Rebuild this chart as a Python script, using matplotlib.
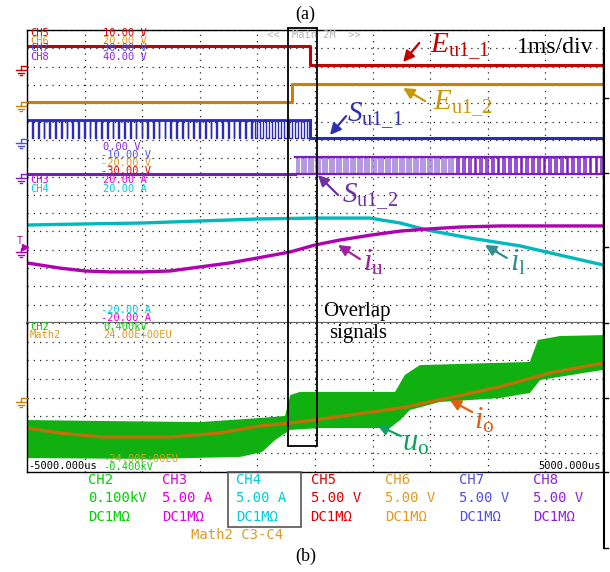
"""
Oscilloscope capture: switching of the upper-arm cell (Eu1_1 -> Eu1_2)
with the two-panel DL-style screen and channel table underneath.
"""

import matplotlib

matplotlib.use("Agg")
import matplotlib.pyplot as plt
import numpy as np
from matplotlib.lines import Line2D
from matplotlib.patches import Rectangle

plt.rcParams["mathtext.fontset"] = "custom"
plt.rcParams["mathtext.rm"] = "Liberation Serif"
plt.rcParams["mathtext.it"] = "Liberation Serif:italic"

# ---------------- data (time in ms, amplitude in screen divisions) ----------------
T_MIN, T_MAX = -5.0, 5.0

# CH5 / CH6: dc-link voltages of the two cells (step at changeover)
ch5_levels = [15.13, 14.09]
ch5_step_t = -0.09
ch6_levels = [12.07, 13.05]
ch6_step_t = -0.40

# CH7: gate signal S_u1_1 (pwm until changeover, then off)
ch7_high, ch7_low = 11.09, 10.10
ch7_seg_t = [-5.0, -1.1, -0.09]
ch7_period = 0.1
ch7_low_frac = [0.12, 0.5]

# CH8: gate signal S_u1_2 (off until changeover, then pwm)
ch8_high, ch8_low = 9.07, 8.14
ch8_seg_t = [-0.35, 2.40, 5.0]
ch8_period = [0.08, 0.1]
ch8_low_frac = [0.5, 0.3]

# CH4: i_l
il_t = [-5, -3.99, -3.0, -2.0, -1.0, 0.0, 0.95, 1.48, 1.94, 2.69, 3.56, 4.25, 5.0]
il_v = [5.35, 5.41, 5.46, 5.57, 5.68, 5.73, 5.73, 5.46, 5.08, 4.64, 4.21, 3.71, 3.17]

# CH3: i_u
iu_t = [-5, -4.43, -3.99, -3.56, -3.0, -2.52, -2.0, -1.48, -1.0, -0.43, 0.0,
        0.43, 0.99, 1.48, 1.94, 2.52, 3.21, 5.0]
iu_v = [3.28, 3.0, 2.84, 2.79, 2.79, 2.84, 3.06, 3.28, 3.55, 3.88, 4.26,
        4.53, 4.81, 5.02, 5.13, 5.24, 5.30, 5.30]

# Math2: i_o
io_t = [-5, -4.43, -3.70, -2.52, -1.65, -0.97, -0.42, 0.61, 1.49, 2.31, 3.19, 4.08, 5.0]
io_v = [2.36, 2.09, 1.88, 1.88, 2.09, 2.47, 2.63, 3.06, 3.44, 3.97, 4.56, 5.32, 5.85]

# CH2: u_o pwm envelope
uo_top_t = [-5, -3.73, -2.0, -0.95, -0.52, -0.43, -0.26, 1.39, 1.56, 1.82, 3.73, 3.87, 4.25, 5.0]
uo_top_v = [2.79, 2.74, 2.68, 2.90, 3.01, 4.13, 4.30, 4.30, 5.21, 5.74, 5.91, 7.09, 7.30, 7.35]
uo_bot_t = [-5, -2.86, -1.30, -0.92, -0.69, -0.43, 0.09, 1.30, 1.48, 1.65, 2.17, 3.21, 3.73, 3.91, 5.0]
uo_bot_v = [0.75, 0.70, 0.81, 1.07, 1.72, 2.26, 2.36, 2.36, 2.79, 3.33, 3.76, 3.97, 4.24, 4.94, 5.48]

# channel table
table_ch = ["CH2", "CH3", "CH4", "CH5", "CH6", "CH7", "CH8"]
table_scale = ["0.100kV", "5.00 A", "5.00 A", "5.00 V", "5.00 V", "5.00 V", "5.00 V"]
table_coupling = ["DC1M\u03a9"] * 7

# ---------------- colours ----------------
C_RED = "#c40000"
C_ORG = "#c8800a"
C_BLUE = "#2c2cb4"
C_PURP = "#7a1cc4"
C_PURP_LT = "#a17ad8"
C_CYAN = "#00b9bc"
C_MAG = "#b000b0"
C_GREEN = "#10b010"
C_IO = "#c0700a"

TXT = {
    "CH2": "#00d000", "CH3": "#e000e0", "CH4": "#00ccd8", "CH5": "#e00000",
    "CH6": "#e09a20", "CH7": "#5050e0", "CH8": "#9020e0", "Math2": "#e09a20",
}

W, H = 610, 572


def fx(x):
    return x / W


def fy(y):
    return 1 - y / H


def pwm(t0, t1, period, low_frac, hi, lo):
    n = max(1, int(round((t1 - t0) / period)))
    p = (t1 - t0) / n
    ts, ys = [], []
    for k in range(n):
        s = t0 + k * p
        fall = s + p * (1 - low_frac)
        ts += [s, fall, fall, s + p]
        ys += [hi, hi, lo, lo]
    ts.append(t1)
    ys.append(hi)
    return np.array(ts), np.array(ys)


fig = plt.figure(figsize=(W / 100, H / 100), dpi=100)

ax_up = fig.add_axes([fx(27), fy(323), fx(576), 293 / H])
ax_lo = fig.add_axes([fx(27), fy(472), fx(576), 149 / H])

for ax, ndiv in ((ax_up, 16), (ax_lo, 8)):
    ax.set_xlim(T_MIN, T_MAX)
    ax.set_ylim(0, ndiv)
    ax.set_xticks(np.arange(-5, 6, 1))
    ax.set_yticks(np.arange(0, ndiv + 1, 1))
    ax.tick_params(length=0, labelbottom=False, labelleft=False)
    ax.grid(True, ls=(0, (1, 4)), color="#222222", lw=0.9)
    for sp in ax.spines.values():
        sp.set_color("black")
        sp.set_linewidth(1.0)
    ax.set_axisbelow(True)

ax_up.spines["bottom"].set_color("#666666")
ax_up.spines["bottom"].set_linewidth(1.6)
ax_lo.spines["top"].set_visible(False)

# --- upper panel traces ---
ax_up.step([T_MIN, ch5_step_t, T_MAX], [ch5_levels[0], ch5_levels[1], ch5_levels[1]],
           where="post", color=C_RED, lw=2.2)
ax_up.step([T_MIN, ch6_step_t, T_MAX], [ch6_levels[0], ch6_levels[1], ch6_levels[1]],
           where="post", color=C_ORG, lw=2.2)

for i, frac in enumerate(ch7_low_frac):
    t, v = pwm(ch7_seg_t[i], ch7_seg_t[i + 1], ch7_period, frac, ch7_high, ch7_low)
    ax_up.plot(t, v, color=C_BLUE, lw=1.0)
ax_up.plot([ch7_seg_t[0], ch7_seg_t[-1]], [ch7_high, ch7_high], color=C_BLUE, lw=2.0)
ax_up.plot([ch7_seg_t[-1], ch7_seg_t[-1], T_MAX], [ch7_high, ch7_low, ch7_low],
           color=C_BLUE, lw=2.2)

ax_up.plot([T_MIN, ch8_seg_t[0]], [ch8_low, ch8_low], color=C_PURP, lw=2.2)
for i, frac in enumerate(ch8_low_frac):
    t, v = pwm(ch8_seg_t[i], ch8_seg_t[i + 1], ch8_period[i], frac, ch8_high, ch8_low)
    ax_up.plot(t, v, color=C_PURP_LT if i == 0 else C_PURP, lw=1.1)
ax_up.plot([ch8_seg_t[0], T_MAX], [ch8_high, ch8_high], color=C_PURP, lw=1.6)
ax_up.plot([ch8_seg_t[0], T_MAX], [ch8_low, ch8_low], color=C_PURP, lw=1.6)

ax_up.plot(il_t, il_v, color=C_CYAN, lw=2.4)
ax_up.plot(iu_t, iu_v, color=C_MAG, lw=2.4)

# --- lower panel traces ---
ax_lo.fill(np.r_[uo_top_t, uo_bot_t[::-1]], np.r_[uo_top_v, uo_bot_v[::-1]],
           color=C_GREEN, lw=0)
ax_lo.plot(io_t, io_v, color=C_IO, lw=2.4)

# --- annotations ---
ARW = dict(arrowstyle="-|>", lw=1.6, mutation_scale=16, shrinkA=0, shrinkB=0)


def label(ax, text, tip, tail, txy, color, size=21):
    ax.annotate("", xy=tip, xytext=tail, arrowprops=dict(ARW, color=color))
    ax.text(txy[0], txy[1], text, color=color, fontsize=size, va="baseline",
            ha="left", family="Liberation Serif")


label(ax_up, r"$E_{\mathrm{u1\_1}}$", (1.53, 14.25), (1.81, 15.29), (2.0, 14.74), "#c00000")
label(ax_up, r"$E_{\mathrm{u1\_2}}$", (1.53, 12.83), (1.91, 12.12), (2.05, 11.63), "#c89600")
label(ax_up, r"$S_{\mathrm{u1\_1}}$", (0.26, 10.27), (0.54, 11.30), (0.55, 10.98), "#3030b0")
label(ax_up, r"$S_{\mathrm{u1\_2}}$", (0.05, 8.08), (0.40, 6.99), (0.47, 6.55), "#7030a0")
label(ax_up, r"$i_{\mathrm{u}}$", (0.40, 4.26), (0.78, 3.49), (0.83, 2.89), "#a020a0", 22)
label(ax_up, r"$i_{\mathrm{l}}$", (2.95, 4.26), (3.33, 3.55), (3.39, 2.89), "#309090", 22)
label(ax_lo, r"$i_{\mathrm{o}}$", (2.34, 3.87), (2.73, 3.22), (2.76, 2.36), "#e06010", 22)
label(ax_lo, r"$u_{\mathrm{o}}$", (1.08, 2.52), (1.49, 1.93), (1.51, 1.18), "#10a060", 22)

serif = dict(family="Liberation Serif", color="black")
fig.text(fx(517), fy(53), "1ms/div", fontsize=17, va="baseline", **serif)
fig.text(fx(323), fy(316), "Overlap", fontsize=15, va="baseline", **serif)
fig.text(fx(329), fy(338), "signals", fontsize=15, va="baseline", **serif)
fig.text(fx(305), fy(14), "(a)", fontsize=13, ha="center", va="center", **serif)
fig.text(fx(306), fy(556), "(b)", fontsize=13, ha="center", va="center", **serif)

# overlap window spanning both panels
fig.add_artist(Rectangle((fx(288), fy(446)), 29 / W, 418 / H, transform=fig.transFigure,
                         fill=False, ec="black", lw=1.3))

# --- on-screen scope readouts ---
mono = dict(family="DejaVu Sans Mono", fontsize=7.5, va="center")
readouts = [
    ("CH5", "CH5", 30, 33), ("CH6", "CH6", 30, 41), ("CH7", "CH7", 30, 48), ("CH8", "CH8", 30, 57),
    ("10.00 V", "CH5", 103, 33), ("20.00 V", "CH6", 103, 41),
    ("30.00 V", "CH7", 103, 48), ("40.00 V", "CH8", 103, 57),
    ("0.00 V", "CH8", 103, 147), ("-10.00 V", "CH7", 101, 155),
    ("-20.00 V", "CH6", 101, 163), ("-30.00 V", "CH5", 101, 171),
    ("CH3", "CH3", 30, 180), ("CH4", "CH4", 30, 189),
    ("20.00 A", "CH3", 103, 180), ("20.00 A", "CH4", 103, 189),
    ("-20.00 A", "CH4", 101, 310), ("-20.00 A", "CH3", 101, 318),
    ("CH2", "CH2", 30, 327), ("Math2", "Math2", 30, 335),
    ("0.400kV", "CH2", 103, 327), ("24.00E+00EU", "Math2", 103, 335),
    ("-24.00E+00EU", "Math2", 103, 459), ("-0.400kV", "CH2", 103, 467),
]
for txt, ch, x, y in readouts:
    fig.text(fx(x), fy(y), txt, color=TXT[ch], **mono)
fig.text(fx(28), fy(466), "-5000.000us", color="black", **mono)
fig.text(fx(601), fy(466), "5000.000us", color="black", ha="right", **mono)
fig.text(fx(267), fy(35), "<<  Main 2M  >>", color="#b4b4b4", **mono)


# ground reference markers on the left edge
def ground(y, color):
    xs = [(27, 21, 21), (16, 26), (18, 24), (20, 22)]
    ys = [(y, y, y + 4), (y + 4, y + 4), (y + 6.5, y + 6.5), (y + 9, y + 9)]
    for a, b in zip(xs, ys):
        fig.add_artist(Line2D([fx(v) for v in a], [fy(v) for v in b],
                              color=color, lw=1.0, transform=fig.transFigure))


ground(66, C_RED)
ground(102, C_ORG)
ground(139, "#5050d0")
ground(174, C_PURP)
ground(248, C_MAG)
ground(398, C_ORG)
fig.text(fx(20), fy(241), "T", color=C_MAG, fontsize=7, ha="center", va="center",
         family="DejaVu Sans Mono")
fig.add_artist(Line2D([fx(25)], [fy(247)], marker=">", ms=5, color=C_MAG,
                      transform=fig.transFigure))

# right-hand frame with small ticks
fig.add_artist(Line2D([fx(604), fx(604)], [fy(28), fy(548)], color="black", lw=1.5,
                      transform=fig.transFigure))
for y in (98, 173, 247, 323, 398, 472, 548):
    fig.add_artist(Line2D([fx(604), fx(608)], [fy(y), fy(y)], color="black", lw=1.0,
                          transform=fig.transFigure))

# --- channel table under the screen ---
tab = dict(family="DejaVu Sans Mono", fontsize=10, va="center")
for i, ch in enumerate(table_ch):
    x = 88 + i * 74.2
    fig.text(fx(x), fy(480), ch, color=TXT[ch], **tab)
    fig.text(fx(x), fy(498), table_scale[i], color=TXT[ch], **tab)
    fig.text(fx(x), fy(517), table_coupling[i], color=TXT[ch], **tab)
fig.text(fx(191), fy(535), "Math2 C3-C4", color=TXT["Math2"], **tab)
fig.add_artist(Rectangle((fx(228), fy(527)), 73 / W, 55 / H, transform=fig.transFigure,
                         fill=False, ec="#555555", lw=1.2))

fig.savefig("out.png", dpi=100)
